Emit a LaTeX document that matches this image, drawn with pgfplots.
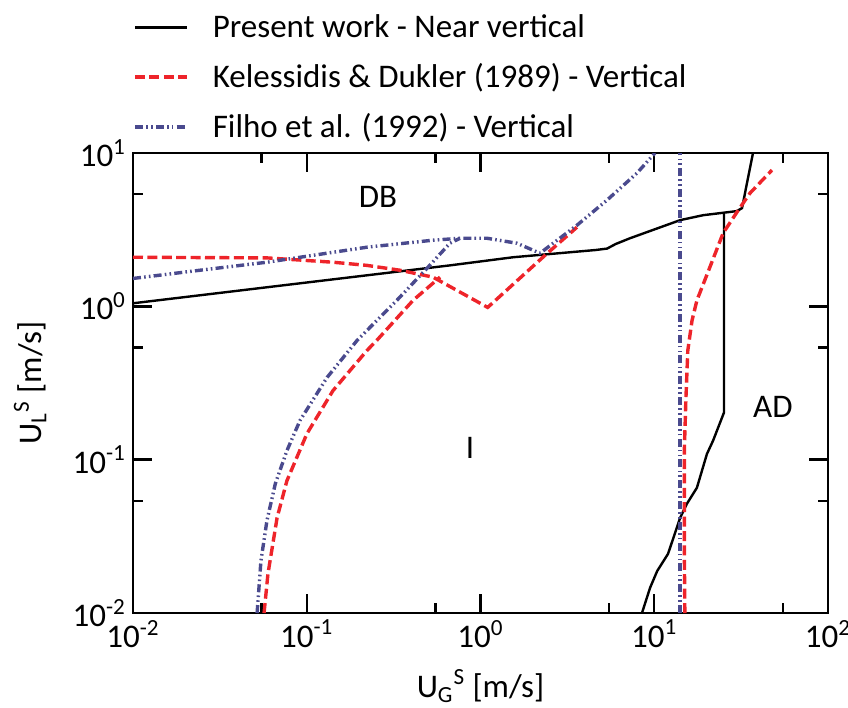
\documentclass[border=0pt]{standalone}
\usepackage{fontspec}
\setmainfont{Carlito}
\usepackage{pgfplots}
\pgfplotsset{compat=1.18}

\definecolor{kdred}{RGB}{238,36,42}
\definecolor{fblue}{RGB}{74,74,142}

\begin{document}
\begin{tikzpicture}
\begin{axis}[
  scale only axis,
  width=347.5pt, height=230pt,
  xmode=log, ymode=log,
  xmin=0.01, xmax=100, ymin=0.01, ymax=10,
  axis line style={line width=1.4pt},
  every tick/.style={black, line width=1.2pt},
  tick align=inside,
  major tick length=9.5pt, minor tick length=5pt,
  xtick={0.01,0.1,1,10,100},
  xticklabels={10\textsuperscript{-2},10\textsuperscript{-1},10\textsuperscript{0},10\textsuperscript{1},10\textsuperscript{2}},
  ytick={0.01,0.1,1,10},
  yticklabels={10\textsuperscript{-2},10\textsuperscript{-1},10\textsuperscript{0},10\textsuperscript{1}},
  minor xtick={0.055,0.55,5.5,55},
  minor ytick={0.054,0.54,5.4},
  tick label style={font=\fontsize{16.5}{18}\selectfont},
  xlabel={U\textsubscript{G}\textsuperscript{S} [m/s]},
  ylabel={U\textsubscript{L}\textsuperscript{S} [m/s]},
  label style={font=\fontsize{16.5}{18}\selectfont},
  xlabel style={at={(axis description cs:0.5,-0.159)}, anchor=center},
  ylabel style={at={(axis description cs:-0.148,0.5)}, anchor=center},
  legend style={draw=none, fill=none, at={(axis description cs:0,1)}, anchor=south west,
    xshift=-3pt, yshift=2pt, font=\fontsize{16.5}{18}\selectfont, row sep=7.5pt,
    /tikz/every even column/.append style={column sep=0pt}},
  legend cell align=left,
  legend image code/.code={\draw[#1] (0pt,0pt) -- (26pt,0pt);\path (36pt,0pt);},
]
% present work (near vertical)
\addplot[black, line width=1.2pt] coordinates {
  (0.01,1.047) (0.667,1.85) (1.54,2.09) (4.6,2.33) (5.35,2.38) (6.0,2.55) (7.25,2.78)
  (14.1,3.65) (19.1,3.93) (29.9,4.18) (32.0,4.37) (37.0,10)
};
\addlegendentry{Present work - Near vertical}
% Kelessidis & Dukler
\addplot[kdred, line width=1.7pt, dash pattern=on 5pt off 2.2pt] coordinates {
  (0.01,2.09) (0.059,2.07) (0.1416,1.94) (0.222,1.85) (0.344,1.72) (0.533,1.55)
  (1.10,0.984) (2.35,2.15) (3.59,3.28)
};
\addlegendentry{Kelessidis \& Dukler (1989) - Vertical}
% Filho et al.
\addplot[fblue, line width=1.7pt, dash pattern=on 4pt off 1.6pt on 0.8pt off 1.6pt on 0.8pt off 1.6pt] coordinates {
  (0.01,1.52) (0.0243,1.72) (0.059,1.94) (0.222,2.43) (0.533,2.70) (0.762,2.78)
  (1.09,2.78) (1.62,2.58) (2.20,2.22) (3.59,3.38) (5.35,4.93) (7.96,7.40) (10.1,10)
};
\addlegendentry{Filho et al. (1992) - Vertical}

\addplot[black, line width=1.2pt, forget plot] coordinates {
  (25.2,4.05) (25.2,0.203) (21.8,0.133) (20.1,0.109) (17.6,0.0656) (15.4,0.0515)
  (14.1,0.0418) (12.0,0.0243) (10.4,0.0188) (9.46,0.0146) (8.50,0.01)
};
\addplot[kdred, line width=1.7pt, dash pattern=on 5pt off 2.2pt, forget plot] coordinates {
  (0.0568,0.01) (0.0598,0.018) (0.0675,0.0418) (0.0769,0.0729) (0.1003,0.148)
  (0.1416,0.282) (0.222,0.515) (0.253,0.600) (0.409,1.094) (0.585,1.55)
};
\addplot[kdred, line width=1.7pt, dash pattern=on 5pt off 2.2pt, forget plot] coordinates {
  (15.0,0.01) (14.9,0.0254) (14.9,0.1145) (15.2,0.243) (15.6,0.515) (16.5,0.809)
  (17.6,1.094) (20.9,1.80) (24.9,3.00) (29.9,4.11) (35.6,5.48) (47.6,7.74)
};
\addplot[fblue, line width=1.7pt, dash pattern=on 4pt off 1.6pt on 0.8pt off 1.6pt on 0.8pt off 1.6pt, forget plot] coordinates {
  (0.0518,0.01) (0.0545,0.0219) (0.0590,0.040) (0.0660,0.070) (0.0769,0.1145) (0.0914,0.180)
  (0.131,0.344) (0.195,0.600) (0.330,1.094) (0.492,1.77) (0.667,2.58) (0.762,2.78)
};
\addplot[fblue, line width=1.7pt, dash pattern=on 4pt off 1.6pt on 0.8pt off 1.6pt on 0.8pt off 1.6pt, forget plot] coordinates {
  (14.1,0.01) (14.1,10)
};

\node[font=\fontsize{16.5}{18}\selectfont] at (axis cs:0.257,5.16) {DB};
\node[font=\fontsize{16.5}{18}\selectfont] at (axis cs:0.871,0.120) {I};
\node[font=\fontsize{16.5}{18}\selectfont] at (axis cs:48.2,0.222) {AD};
\end{axis}
\pgfresetboundingbox
\path ([xshift=-66.5pt,yshift=-47pt]current axis.south west) rectangle ([xshift=10pt,yshift=76.5pt]current axis.north east);
\end{tikzpicture}
\end{document}
